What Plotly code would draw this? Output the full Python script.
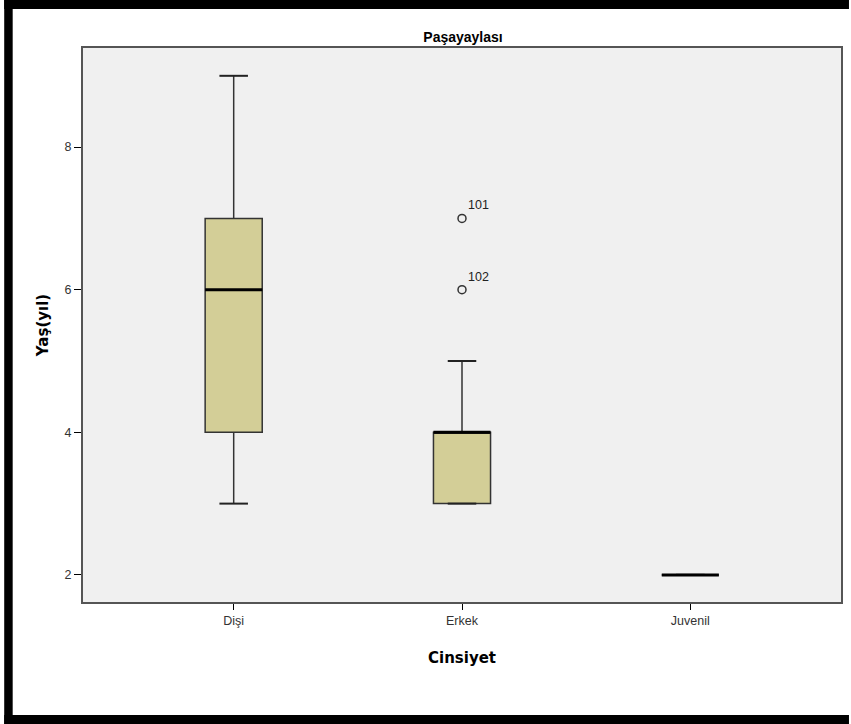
import plotly.graph_objects as go

categories = ["Dişi", "Erkek", "Juvenil"]
q1 = [4, 3, 2]
median = [6, 4, 2]
q3 = [7, 4, 2]
lower_fence = [3, 3, 2]
upper_fence = [9, 5, 2]
outlier_cat = ["Erkek", "Erkek"]
outlier_vals = [7, 6]
outlier_ids = ["101", "102"]

title = "Paşayaylası"
x_title = "Cinsiyet"
y_title = "Yaş(yıl)"
y_ticks = [2, 4, 6, 8]

BOX_W = 0.25
CAP_W = 0.125
fill = "#d3ce97"
edge = "#333333"

fig = go.Figure()
xs = list(range(len(categories)))

for i, c in enumerate(categories):
    fig.add_trace(go.Box(
        x=[i], q1=[q1[i]], median=[median[i]], q3=[q3[i]],
        lowerfence=[lower_fence[i]], upperfence=[upper_fence[i]],
        width=BOX_W, fillcolor=fill, line=dict(color=edge, width=1.5),
        whiskerwidth=0, boxpoints=False, showlegend=False, hoverinfo="skip"))
    # whisker caps
    for v in (lower_fence[i], upper_fence[i]):
        fig.add_trace(go.Scatter(
            x=[i - CAP_W / 2, i + CAP_W / 2], y=[v, v], mode="lines",
            line=dict(color="#222222", width=2), showlegend=False, hoverinfo="skip"))
    # thick median
    fig.add_trace(go.Scatter(
        x=[i - BOX_W / 2, i + BOX_W / 2], y=[median[i], median[i]], mode="lines",
        line=dict(color="#000000", width=3), showlegend=False, hoverinfo="skip"))

ox = [categories.index(c) for c in outlier_cat]
fig.add_trace(go.Scatter(
    x=ox, y=outlier_vals, mode="markers+text", text=outlier_ids,
    textposition="top right",
    textfont=dict(family="Liberation Sans, Arial", size=12.5, color="#222222"),
    marker=dict(symbol="circle-open", size=8, color="#333333", line=dict(width=1.5)),
    showlegend=False, hoverinfo="skip"))

# black image border bands (paper coords)
W, H = 851, 724
L, R, T, B = 83, 8, 48, 122
pw, ph = W - L - R, H - T - B
def px(x):
    return (x - L) / pw
def py(y):
    return (H - B - y) / ph
shapes = [
    dict(type="rect", xref="paper", yref="paper", x0=px(4), x1=px(12.5), y0=py(0), y1=py(724),
         fillcolor="black", line=dict(width=0), layer="above"),
    dict(type="rect", xref="paper", yref="paper", x0=px(4), x1=px(851), y0=py(0), y1=py(9),
         fillcolor="black", line=dict(width=0), layer="above"),
    dict(type="rect", xref="paper", yref="paper", x0=px(4), x1=px(851), y0=py(715), y1=py(724),
         fillcolor="black", line=dict(width=0), layer="above"),
]

fig.update_layout(
    width=W, height=H,
    margin=dict(l=L, r=R, t=T, b=B),
    paper_bgcolor="white", plot_bgcolor="#f0f0f0",
    title=dict(text="<b>" + title + "</b>", x=(L + pw / 2) / W, xanchor="center",
               y=1 - 37 / H, yanchor="middle",
               font=dict(family="Liberation Sans Narrow, Liberation Sans, Arial", size=14, color="#000")),
    shapes=shapes,
)
fig.update_xaxes(
    range=[-0.66, 2.66], tickvals=xs, ticktext=categories, showgrid=False, zeroline=False,
    ticks="outside", ticklen=6, tickcolor="#000", tickwidth=1,
    showline=True, mirror=True, linecolor="#555555", linewidth=2,
    tickfont=dict(family="Liberation Sans, Arial", size=12.5, color="#333"),
    title=dict(text="<b>" + x_title + "</b>", standoff=25,
               font=dict(family="DejaVu Sans, Liberation Sans", size=15, color="#000")),
)
fig.update_yaxes(
    range=[1.62, 9.39], tickvals=y_ticks, showgrid=False, zeroline=False,
    ticks="outside", ticklen=7, tickcolor="#000", tickwidth=1,
    showline=True, mirror=True, linecolor="#555555", linewidth=2,
    tickfont=dict(family="Liberation Sans, Arial", size=12.5, color="#333"),
    title=dict(text="<b>" + y_title + "</b>", standoff=12,
               font=dict(family="DejaVu Sans, Liberation Sans", size=15, color="#000")),
)

fig.write_html("out.html")
